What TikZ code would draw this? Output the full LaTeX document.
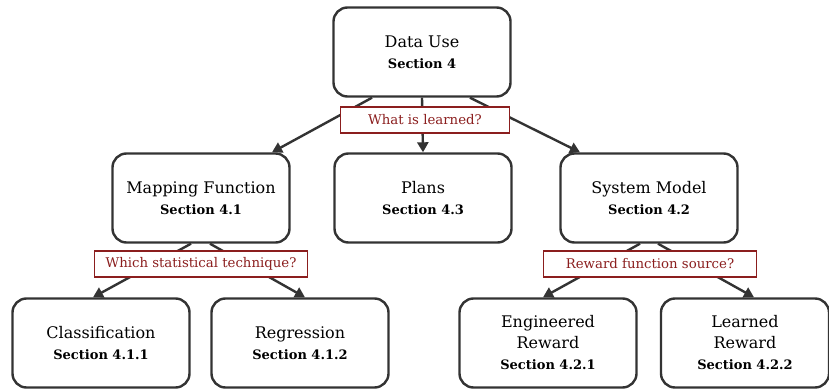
\documentclass[tikz,border=0pt]{standalone}
\usepackage{fontspec}
\setmainfont{DejaVu Serif}
\usetikzlibrary{arrows.meta}
\definecolor{boxline}{HTML}{333333}
\definecolor{qred}{HTML}{8B1E1E}
\newcommand{\secf}{\fontsize{13}{21}\selectfont\bfseries}
\tikzset{
  box/.style={draw=boxline, line width=2.4pt, rounded corners=14pt, fill=white,
    minimum width=177pt, minimum height=89pt, align=center,
    font=\fontsize{16}{21}\selectfont, text=black},
  lbl/.style={draw=qred, line width=1.1pt, fill=white, text=qred,
    font=\fontsize{13.3}{16}\selectfont, inner sep=0pt, minimum height=26pt},
  conn/.style={draw=boxline, line width=2.4pt, -{Triangle[length=10pt,width=11pt]}}
}
\begin{document}
\begin{tikzpicture}[x=1pt,y=-1pt]
\useasboundingbox (0,0) rectangle (829,390);
\node[box] (du) at (422,52) {Data Use\\{\secf Section 4}};
\node[box] (mf) at (201,198) {Mapping Function\\{\secf Section 4.1}};
\node[box] (pl) at (423,198) {Plans\\{\secf Section 4.3}};
\node[box] (sm) at (649,198) {System Model\\{\secf Section 4.2}};
\node[box] (cl) at (101,343) {Classification\\{\secf Section 4.1.1}};
\node[box] (rg) at (300,343) {Regression\\{\secf Section 4.1.2}};
\node[box] (er) at (548,343) {Engineered\\Reward\\{\secf Section 4.2.1}};
\node[box, minimum width=168pt] (lr) at (745,343) {Learned\\Reward\\{\secf Section 4.2.2}};

\draw[conn] ([xshift=-50pt]du.south) -- ([xshift=71pt]mf.north);
\draw[conn] (du.south) -- (pl.north);
\draw[conn] ([xshift=48pt]du.south) -- ([xshift=-69pt]sm.north);
\draw[conn] ([xshift=-10pt]mf.south) -- ([xshift=-8pt]cl.north);
\draw[conn] ([xshift=9pt]mf.south) -- ([xshift=5pt]rg.north);
\draw[conn] ([xshift=-9pt]sm.south) -- ([xshift=-5pt]er.north);
\draw[conn] ([xshift=9pt]sm.south) -- ([xshift=9pt]lr.north);

\node[lbl, minimum width=169pt] (q1) at (425,120) {What is learned?};
\node[lbl, minimum width=213pt] (q2) at (201,264) {Which statistical technique?};
\node[lbl, minimum width=213pt] (q3) at (650,264) {Reward function source?};
\end{tikzpicture}
\end{document}
